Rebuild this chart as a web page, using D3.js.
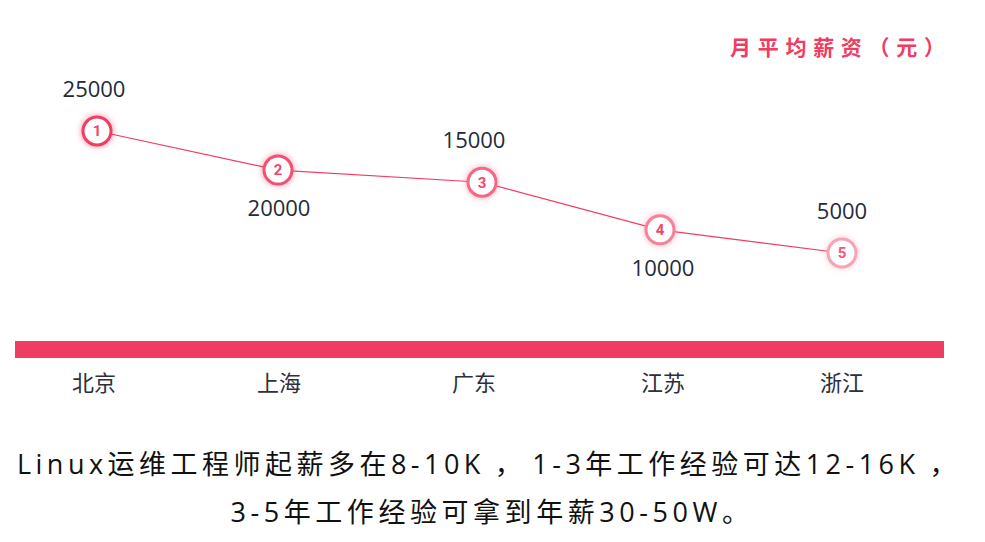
<!DOCTYPE html>
<html><head><meta charset="utf-8">
<script src="https://cdn.jsdelivr.net/npm/d3@7"></script>
<style>
html,body{margin:0;padding:0;background:#fff;}
svg{display:block;font-family:"Noto Sans CJK SC","Noto Sans",sans-serif;}
</style></head>
<body><div id="chart"></div>
<script>
const categories = ["北京","上海","广东","江苏","浙江"];
const valueLabels = ["25000","20000","15000","10000","5000"];
const plotValues = [25000, 18600, 16600, 8800, 5000];
const ranks = ["1","2","3","4","5"];
const labelSide = ["above","below","above","below","above"];
const markerColors = ["#f03c62","#f24f73","#f46784","#f77f98","#f9a3b6"];
const title = "月平均薪资（元）";
const footnote = ["Linux运维工程师起薪多在8-10K，1-3年工作经验可达12-16K，","3-5年工作经验可拿到年薪30-50W。"];

const W = 985, H = 542;
const svg = d3.select("#chart").append("svg").attr("width", W).attr("height", H);
const defs = svg.append("defs");
markerColors.forEach((c,i)=>{
  const f = defs.append("filter").attr("id","glow"+i).attr("x","-60%").attr("y","-60%").attr("width","220%").attr("height","220%");
  f.append("feGaussianBlur").attr("in","SourceAlpha").attr("stdDeviation",3.2).attr("result","b");
  f.append("feFlood").attr("flood-color",c).attr("flood-opacity",0.6);
  f.append("feComposite").attr("in2","b").attr("operator","in").attr("result","g");
  const m = f.append("feMerge");
  m.append("feMergeNode").attr("in","g");
  m.append("feMergeNode").attr("in","SourceGraphic");
});

const labelNudge = [0,-2,6,8,0];
const markerNudge = [3,-1,8,-3,0];
const x = d3.scalePoint().domain(categories).range([94, 842]);
const cx = i => x(categories[i]) + labelNudge[i];
const mx = i => cx(i) + markerNudge[i];
const y = d3.scaleLinear().domain([5000, 25000]).range([253, 131]);

svg.append("rect").attr("x",15).attr("y",341).attr("width",929).attr("height",17).attr("fill","#f03c62");

const xAxis = d3.axisBottom(x).tickSize(0).tickPadding(0);
const gx = svg.append("g").attr("transform","translate(0,372)").call(xAxis);
gx.select(".domain").remove();
gx.selectAll(".tick").attr("transform",(d)=>`translate(${cx(categories.indexOf(d))},0)`);
gx.selectAll("text").attr("font-size",22).attr("fill","#2d2f3a").attr("dy","0.85em")
  .attr("font-family","'Noto Sans CJK SC',sans-serif");

const line = d3.line().x((d,i)=>mx(i)).y(d=>y(d));
svg.append("path").datum(plotValues).attr("d",line).attr("fill","none").attr("stroke","#f03c62").attr("stroke-width",1.2);

const g = svg.append("g").selectAll("g").data(plotValues).join("g")
  .attr("transform",(d,i)=>`translate(${mx(i)},${y(d)})`);
g.append("circle").attr("r",14).attr("fill","#fff")
  .attr("stroke",(d,i)=>markerColors[i]).attr("stroke-width",3)
  .attr("filter",(d,i)=>`url(#glow${i})`);
g.append("text").text((d,i)=>ranks[i]).attr("text-anchor","middle").attr("dy","0.36em")
  .attr("font-size",15).attr("font-weight","bold").attr("fill",(d,i)=> i<4 ? "#f0466b" : "#f5557a")
  .attr("font-family","Roboto, Arial, sans-serif");

svg.append("g").selectAll("text").data(plotValues).join("text")
  .attr("x",(d,i)=>cx(i))
  .attr("y",(d,i)=> labelSide[i]==="above" ? y(d)-42 : y(d)+38)
  .attr("dy","0.35em")
  .attr("text-anchor","middle").attr("font-size",22).attr("fill","#242a3a")
  .attr("font-family","'Open Sans','Noto Sans',sans-serif")
  .text((d,i)=>valueLabels[i]);

svg.append("text").attr("x",730).attr("y",48).attr("dy","0.35em")
  .attr("font-size",21).attr("font-weight","bold").attr("fill","#f03c62")
  .attr("textLength",215).attr("lengthAdjust","spacing")
  .text(title);

// footnote: uniform tracking, Latin runs in Open Sans, commas padded on both sides
const footWidths = [950, 523];
footnote.forEach((t,i)=>{
  const txt = svg.append("text").attr("x",492 - footWidths[i]/2).attr("y",465+i*48).attr("dy","0.35em")
    .attr("font-size",27).attr("fill","#111");
  const runs = t.match(/[A-Za-z0-9\-]+|，|[^A-Za-z0-9\-，]+/g);
  const spans = runs.map(r=>{
    const type = /^[A-Za-z0-9\-]+$/.test(r) ? "latin" : (r === "，" ? "comma" : "cjk");
    const sp = txt.append("tspan")
      .attr("font-family", type==="latin" ? "'Open Sans',sans-serif" : "'Noto Sans CJK SC',sans-serif")
      .datum({type, n: r.length}).text(r);
    if (type==="comma") sp.attr("dx",10);
    return sp;
  });
  const setSpacing = s => spans.forEach(sp=>sp.attr("letter-spacing", sp.datum().type==="comma" ? s+6 : s));
  setSpacing(0);
  const w0 = txt.node().getComputedTextLength() + 10*d3.sum(spans, sp=>sp.datum().type==="comma"?1:0);
  const nAll = d3.sum(spans, sp=>sp.datum().n);
  setSpacing((footWidths[i] - w0) / nAll);
});
</script></body></html>
